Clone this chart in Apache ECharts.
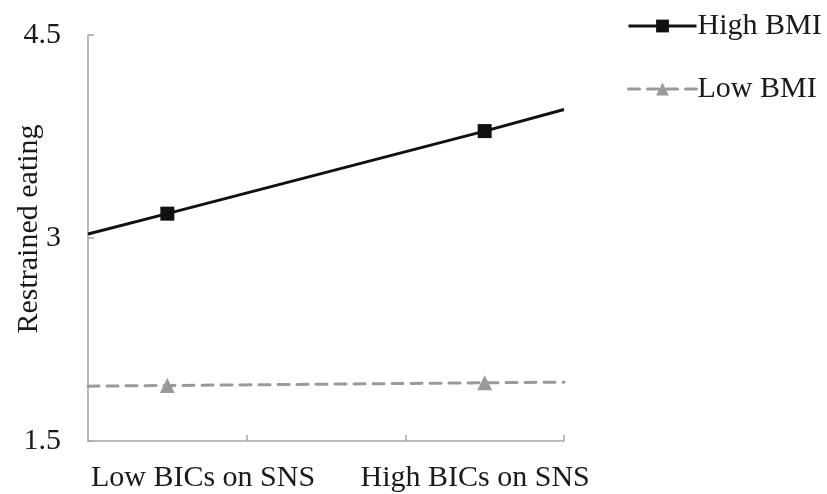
<!DOCTYPE html>
<html>
<head>
<meta charset="utf-8">
<script src="https://cdn.jsdelivr.net/npm/echarts@6/dist/echarts.min.js"></script>
<style>html,body{margin:0;padding:0;background:#fff;}#c{width:827px;height:494px;}</style>
</head>
<body>
<div id="c"></div>
<script>
// x positions on a 0..3 scale (markers at 0.5 and 2.5; line runs to the plot edges)
const xPos = [0, 0.5, 2.5, 3];
const markerIdx = [1, 2];
const highBMI = [3.03, 3.18, 3.79, 3.95];
const lowBMI = [1.905, 1.91, 1.93, 1.935];
const categories = ['Low BICs on SNS', 'High BICs on SNS'];
const categoryPos = [0.725, 2.44];
const yTicks = [1.5, 3, 4.5];
const seriesNames = ['High BMI', 'Low BMI'];

const FONT = "'Liberation Serif', 'Times New Roman', serif";
const TEXT = '#1a1a1a';
const AXIS = '#a6a6a6';

function build(vals) {
  return xPos.map((x, i) => ({
    value: [x, vals[i]],
    symbol: markerIdx.includes(i) ? undefined : 'none'
  }));
}

const chart = echarts.init(document.getElementById('c'), null, {renderer: 'canvas'});
chart.setOption({
  animation: false,
  backgroundColor: '#fff',
  textStyle: {fontFamily: FONT},
  grid: {left: 88, right: 263, top: 35, bottom: 53, containLabel: false, outerBoundsMode: 'none'},
  legend: {
    orient: 'vertical',
    left: 622,
    top: 6,
    itemWidth: 68,
    itemHeight: 16,
    itemGap: 33,
    data: seriesNames,
    lineStyle: {width: 3},
    textStyle: {fontFamily: FONT, fontSize: 30, color: TEXT, padding: [0, 0, 0, -4]}
  },
  xAxis: {
    type: 'value',
    min: 0, max: 3, interval: 1,
    axisLine: {show: true, lineStyle: {color: AXIS, width: 1.5}},
    axisTick: {show: true, inside: true, length: 6, lineStyle: {color: AXIS, width: 1.5}, customValues: [1, 2, 3]},
    axisLabel: {
      show: true, margin: 22, fontFamily: FONT, fontSize: 30, color: TEXT,
      customValues: categoryPos,
      formatter: function (v) {
        const i = categoryPos.findIndex(p => Math.abs(p - v) < 1e-6);
        return i >= 0 ? categories[i] : '';
      }
    },
    splitLine: {show: false}
  },
  yAxis: {
    type: 'value',
    min: yTicks[0], max: yTicks[yTicks.length - 1], interval: 1.5,
    name: 'Restrained eating',
    nameLocation: 'middle',
    nameGap: 44,
    nameMoveOverlap: false,
    nameTextStyle: {fontFamily: FONT, fontSize: 30, color: TEXT, padding: [0, 0, 0, 18]},
    axisLine: {show: true, lineStyle: {color: AXIS, width: 1.5}},
    axisTick: {show: true, inside: true, length: 6, lineStyle: {color: AXIS, width: 1.5}},
    axisLabel: {margin: 27, fontFamily: FONT, fontSize: 30, color: TEXT, formatter: v => String(v)},
    splitLine: {show: false}
  },
  series: [
    {
      name: seriesNames[0], type: 'line', data: build(highBMI),
      symbol: 'rect', symbolSize: 14, showSymbol: true,
      lineStyle: {color: '#111', width: 3},
      itemStyle: {color: '#111'}
    },
    {
      name: seriesNames[1], type: 'line', data: build(lowBMI),
      symbol: 'triangle', symbolSize: 15, showSymbol: true,
      lineStyle: {color: '#9a9a9a', width: 3, type: [11, 8], cap: 'round'},
      itemStyle: {color: '#9a9a9a'}
    }
  ]
});
</script>
</body>
</html>
